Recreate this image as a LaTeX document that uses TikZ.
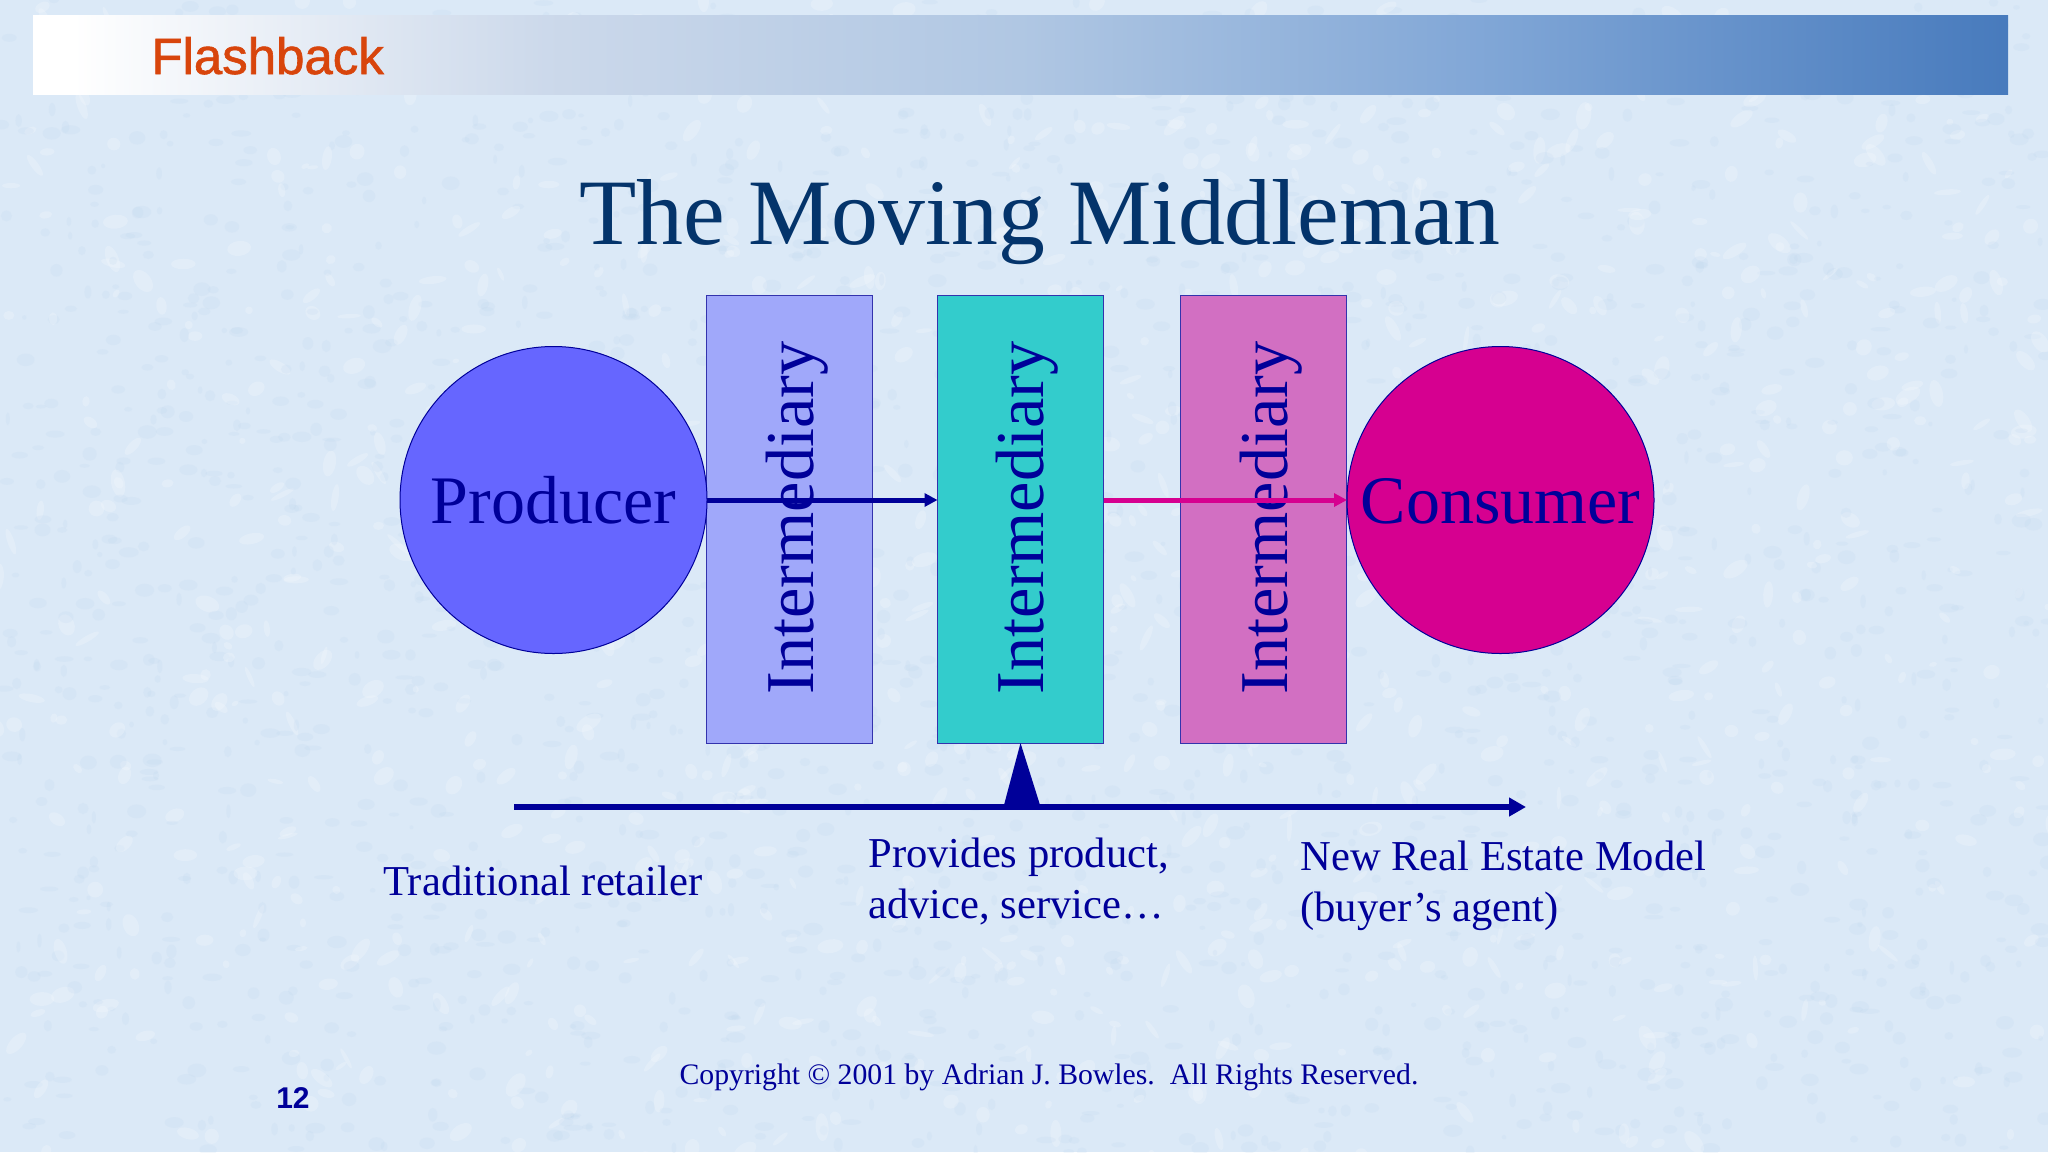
\documentclass[tikz,border=0pt]{standalone}
\usepackage{fontspec}
\setmainfont{Liberation Serif}
\newfontfamily\headfont{Liberation Sans}
\newfontfamily\flashfont[RawFeature={embolden=1.2}]{Liberation Sans}
\usetikzlibrary{arrows.meta}
\definecolor{slidebg}{HTML}{DBE9F7}
\definecolor{fleckblue}{HTML}{BBD3EC}
\definecolor{inkblue}{HTML}{000099}
\definecolor{titleblue}{HTML}{04346B}
\definecolor{flashorange}{HTML}{D8450C}
\definecolor{prodblue}{HTML}{6666FF}
\definecolor{interlilac}{HTML}{A0A8FA}
\definecolor{interteal}{HTML}{33CCCC}
\definecolor{interpink}{HTML}{D26FC2}
\definecolor{consmagenta}{HTML}{D60090}
\pgfdeclarehorizontalshading{flashbar}{100bp}{rgb(0bp)=(1,1,1); rgb(26bp)=(1,1,1); rgb(38bp)=(.80,.85,.92); rgb(50bp)=(.69,.78,.89); rgb(62bp)=(.50,.65,.84); rgb(75bp)=(.28,.48,.74); rgb(100bp)=(.28,.48,.74)}
\begin{document}
\begin{tikzpicture}[x=0.5pt,y=-0.5pt,line cap=butt,line join=miter,
		ball/.style={circle,draw=inkblue,line width=0.5pt,inner sep=0pt,outer sep=0pt,minimum size=153.5pt},
		interbox/.style={rectangle,draw=inkblue!80,line width=0.5pt,inner sep=0pt,outer sep=0pt,minimum width=83pt,minimum height=224pt},
		intertext/.style={rotate=90,anchor=base west,inner sep=0pt,text=inkblue,font=\fontsize{34.2}{40}\selectfont},
		caption/.style={anchor=base west,align=left,inner sep=0pt,text=inkblue,font=\fontsize{21.3}{25.5}\selectfont},
		flow/.style={line width=2.5pt,-{Triangle[length=6.5pt,width=6.5pt]}}]
	\useasboundingbox (0,0) rectangle (2048,1152);
	\fill[slidebg] (0,0) rectangle (2048,1152);
	% mottled paper
	\pgfmathsetseed{12}
	\foreach \i in {1,...,2200}{
		\fill[white,opacity=0.2,rotate around={rnd*180:(rnd*2048,rnd*1152)}] (rnd*2048,rnd*1152) ellipse ({3+rnd*11} and {2+rnd*6});
		\fill[fleckblue,opacity=0.16] (rnd*2048,rnd*1152) ellipse ({2+rnd*8} and {2+rnd*5});
	}
	% header bar
	\fill[gray!60] (33,17) rectangle (2008,95);
	\shade[shading=flashbar] (33,15) rectangle (2008,94);
	\node[anchor=base west,inner sep=0pt,text=flashorange,font=\flashfont\fontsize{25.5}{30}\selectfont] (flash) at (151,74) {Flashback};
	\node[anchor=base,inner sep=0pt,text=titleblue,font=\fontsize{46.85}{54}\selectfont] (title) at (1040,244) {The Moving Middleman};
	% shapes
	\node[interbox,fill=interlilac] (interA) at (789.5,519) {};
	\node[interbox,fill=interteal] (interB) at (1020.5,519) {};
	\node[interbox,fill=interpink] (interC) at (1263.5,519) {};
	\node[ball,fill=prodblue] (producer) at (553.5,500) {};
	\node[ball,fill=consmagenta] (consumer) at (1500.5,500) {};
	\node[intertext] (interAlabel) at (813,695) {Intermediary};
	\node[intertext] (interBlabel) at (1043,695) {Intermediary};
	\node[intertext] (interClabel) at (1287,695) {Intermediary};
	\node[anchor=base,inner sep=0pt,text=inkblue,font=\fontsize{34}{40}\selectfont] (producerlabel) at (553.5,523) {Producer};
	\node[anchor=base,inner sep=0pt,text=inkblue,font=\fontsize{34}{40}\selectfont] (consumerlabel) at (1500.5,523) {Consumer};
	% flows
	\draw[flow,color=inkblue] (producer.east) -- (interB.west |- producer.east);
	\draw[flow,color=consmagenta] (interB.east |- consumer.west) -- (consumer.west);
	% scale with pointer
	\coordinate (scaleL) at (514,807);
	\coordinate (scaleR) at (1526,807);
	\coordinate (pointL) at (1004,805);
	\coordinate (pointR) at (1040,805);
	\draw[line width=3.25pt,color=inkblue,-{Triangle[length=8.5pt,width=9pt]}] (scaleL) -- (scaleR);
	\fill[inkblue] (interB.south) -- (pointR) -- (pointL) -- cycle;
	\node[caption] (retail) at (383,895) {Traditional retailer};
	\node[caption] (service) at (868,918) {Provides product,\\advice, service\ldots};
	\node[caption] (estate) at (1300,921) {New Real Estate Model\\(buyer’s agent)};
	\node[anchor=base,inner sep=0pt,text=inkblue,font=\fontsize{14.87}{18}\selectfont] (copyright) at (1049,1084) {Copyright © 2001 by Adrian J. Bowles.\ \ All Rights Reserved.};
	\node[anchor=base,inner sep=0pt,text=inkblue,font=\headfont\bfseries\fontsize{15}{18}\selectfont] (page) at (293,1108) {12};
\end{tikzpicture}
\end{document}
